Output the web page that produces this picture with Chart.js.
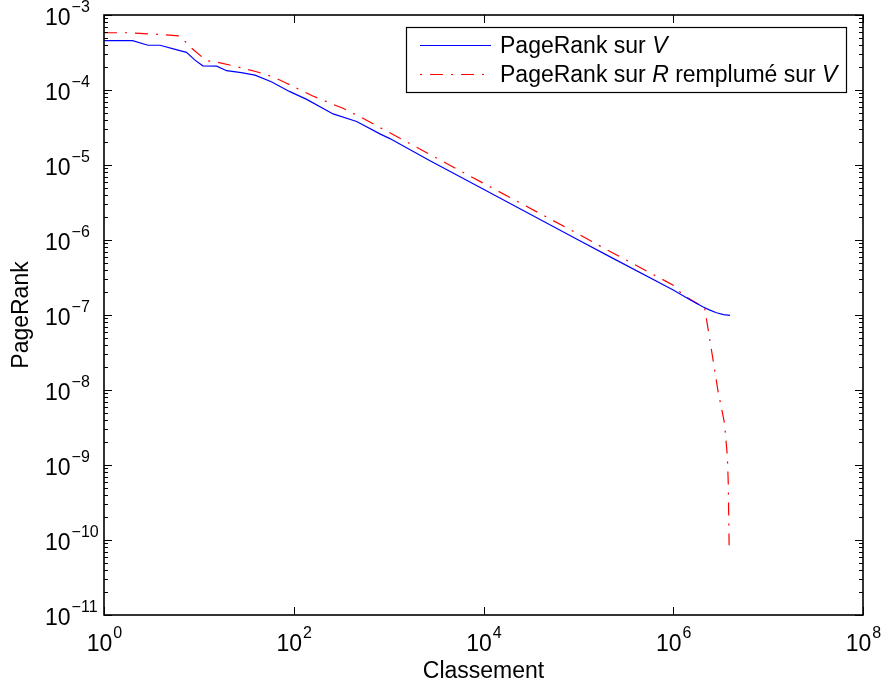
<!DOCTYPE html>
<html>
<head>
<meta charset="utf-8">
<script src="https://cdn.jsdelivr.net/npm/chart.js@4.4.1/dist/chart.umd.min.js"></script>
<style>
  html, body { margin: 0; padding: 0; background: #ffffff; }
  #wrap { width: 881px; height: 685px; }
</style>
</head>
<body>
<div id="wrap"><canvas id="prChart" width="881" height="685"></canvas></div>
<script>
// PageRank sur V
const rankV = [1, 2, 2.9, 3.9, 5.5, 7.4, 9.1, 11, 15.4, 19.6, 28, 39, 58, 91, 137, 260, 460, 810, 1030, 2700, 10000, 100000, 214000, 1000000, 1500000, 2070000, 2400000, 2850000, 3400000, 3970000];
const prV = [4.54e-4, 4.54e-4, 3.95e-4, 3.95e-4, 3.5e-4, 3.18e-4, 2.5e-4, 2.1e-4, 2.08e-4, 1.81e-4, 1.7e-4, 1.58e-4, 1.29e-4, 9.5e-5, 7.5e-5, 4.8e-5, 3.8e-5, 2.6e-5, 2.25e-5, 1.15e-5, 4.75e-6, 1.0e-6, 6.0e-7, 2.15e-7, 1.6e-7, 1.28e-7, 1.17e-7, 1.07e-7, 1.01e-7, 9.9e-8];

// PageRank sur R remplumé sur V
const rankR = [1, 1.8, 4, 6.3, 8.4, 12, 15.9, 25, 40.6, 60, 84, 159, 330, 535, 810, 10000, 100000, 200000, 1000000, 1260000, 1760000, 2140000, 2630000, 2950000, 3470000, 3720000, 3800000, 3880000];
const prR = [5.8e-4, 5.8e-4, 5.5e-4, 5.25e-4, 3.6e-4, 2.46e-4, 2.34e-4, 2.05e-4, 1.75e-4, 1.5e-4, 1.23e-4, 8.3e-5, 5.7e-5, 4.2e-5, 3.16e-5, 5.7e-6, 1.2e-6, 7.4e-7, 2.5e-7, 1.86e-7, 1.44e-7, 1.26e-7, 2.5e-8, 1e-8, 3.6e-9, 1.29e-9, 5.7e-10, 8.5e-11];

// axis ticks (exponents of 10)
const xTickExp = [0, 2, 4, 6, 8];
const yTickExp = [-11, -10, -9, -8, -7, -6, -5, -4, -3];

const FONT = '"Liberation Sans", Arial, Helvetica, sans-serif';
const RED_DASH = [13, 8, 2, 8];

function toPoints(xs, ys) {
    return xs.map((x, i) => ({ x: x, y: ys[i] }));
}

function drawPow(ctx, exp, x, y, align) {
    // "10" + superscript exponent, (x,y) = anchor, y = baseline of "10"
    const base = '10';
    const sup = exp < 0 ? '\u2212' + Math.abs(exp) : String(exp);
    ctx.font = '23px ' + FONT;
    const wb = ctx.measureText(base).width;
    ctx.font = '16px ' + FONT;
    const ws = ctx.measureText(sup).width;
    let left = x;
    if (align === 'center') left = x - (wb + ws) / 2;
    ctx.textAlign = 'left';
    ctx.textBaseline = 'alphabetic';
    ctx.font = '23px ' + FONT;
    ctx.fillText(base, left, y);
    ctx.font = '16px ' + FONT;
    ctx.fillText(sup, left + wb + 1, y - 13);
}

function drawRuns(ctx, runs, x, y) {
    let cx = x;
    runs.forEach(r => {
        ctx.font = (r[1] ? 'italic ' : '') + '23px ' + FONT;
        ctx.fillText(r[0], cx, y);
        cx += ctx.measureText(r[0]).width;
    });
}

const axesPlugin = {
    id: 'matlabAxes',
    afterDraw(chart) {
        const ctx = chart.ctx;
        const xs = chart.scales.x;
        const ys = chart.scales.y;
        const a = chart.chartArea;
        ctx.save();
        ctx.strokeStyle = '#000000';
        ctx.fillStyle = '#000000';

        // ticks, pointing inwards on all four sides
        ctx.lineWidth = 1;
        ctx.beginPath();
        xTickExp.forEach(e => {
            const px = Math.round(xs.getPixelForValue(Math.pow(10, e))) + 0.5;
            ctx.moveTo(px, a.bottom); ctx.lineTo(px, a.bottom - 8);
            ctx.moveTo(px, a.top); ctx.lineTo(px, a.top + 8);
        });
        yTickExp.forEach(e => {
            const py = Math.round(ys.getPixelForValue(Math.pow(10, e))) + 0.5;
            ctx.moveTo(a.left, py); ctx.lineTo(a.left + 8, py);
            ctx.moveTo(a.right, py); ctx.lineTo(a.right - 8, py);
            if (e === yTickExp[yTickExp.length - 1]) return;
            for (let m = 2; m <= 9; m++) {
                const pm = Math.round(ys.getPixelForValue(m * Math.pow(10, e))) + 0.5;
                ctx.moveTo(a.left, pm); ctx.lineTo(a.left + 4, pm);
                ctx.moveTo(a.right, pm); ctx.lineTo(a.right - 4, pm);
            }
        });
        ctx.stroke();

        // frame
        ctx.lineWidth = 1.6;
        ctx.strokeRect(a.left, a.top, a.right - a.left, a.bottom - a.top);

        // tick labels
        xTickExp.forEach(e => {
            drawPow(ctx, e, xs.getPixelForValue(Math.pow(10, e)), a.bottom + 36, 'center');
        });
        yTickExp.forEach(e => {
            drawPow(ctx, e, 45, ys.getPixelForValue(Math.pow(10, e)) + 10, 'left');
        });

        // axis titles
        ctx.font = '23px ' + FONT;
        ctx.textAlign = 'center';
        ctx.textBaseline = 'alphabetic';
        ctx.fillText('Classement', (a.left + a.right) / 2, 678);
        ctx.save();
        ctx.translate(28, (a.top + a.bottom) / 2);
        ctx.rotate(-Math.PI / 2);
        ctx.fillText('PageRank', 0, 0);
        ctx.restore();

        // legend
        const lx = 406, ly = 27, lw = 440, lh = 65;
        ctx.fillStyle = '#ffffff';
        ctx.fillRect(lx, ly, lw, lh);
        ctx.lineWidth = 1.2;
        ctx.strokeStyle = '#000000';
        ctx.strokeRect(lx + 0.5, ly + 0.5, lw, lh);

        ctx.lineWidth = 1.2;
        ctx.strokeStyle = '#0000ff';
        ctx.beginPath();
        ctx.moveTo(420, 45.5); ctx.lineTo(491, 45.5);
        ctx.stroke();

        ctx.strokeStyle = '#ff0000';
        ctx.setLineDash(RED_DASH);
        ctx.lineDashOffset = 21;
        ctx.beginPath();
        ctx.moveTo(420, 74.5); ctx.lineTo(491, 74.5);
        ctx.stroke();
        ctx.setLineDash([]);

        ctx.fillStyle = '#000000';
        ctx.textAlign = 'left';
        drawRuns(ctx, [['PageRank sur ', false], ['V', true]], 500, 53);
        drawRuns(ctx, [['PageRank sur ', false], ['R', true], [' remplumé sur ', false], ['V', true]], 500, 82);
        ctx.restore();
    }
};

const ctx = document.getElementById('prChart').getContext('2d');
new Chart(ctx, {
    type: 'line',
    data: {
        datasets: [
            {
                label: 'PageRank sur V',
                data: toPoints(rankV, prV),
                borderColor: '#0000ff',
                borderWidth: 1.2,
                pointRadius: 0,
                fill: false,
                tension: 0
            },
            {
                label: 'PageRank sur R remplumé sur V',
                data: toPoints(rankR, prR),
                borderColor: '#ff0000',
                borderWidth: 1.2,
                borderDash: RED_DASH,
                pointRadius: 0,
                fill: false,
                tension: 0
            }
        ]
    },
    options: {
        responsive: false,
        animation: false,
        layout: { padding: { left: 104, right: 18, top: 15, bottom: 70 } },
        scales: {
            x: { type: 'logarithmic', min: 1, max: 1e8, display: false },
            y: { type: 'logarithmic', min: 1e-11, max: 1e-3, display: false }
        },
        plugins: {
            legend: { display: false },
            tooltip: { enabled: false }
        }
    },
    plugins: [axesPlugin]
});
</script>
</body>
</html>
